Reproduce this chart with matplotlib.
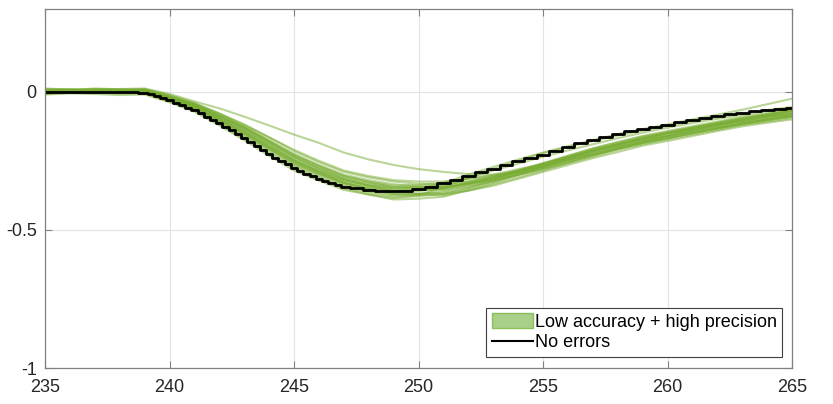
import matplotlib
matplotlib.use("Agg")
import matplotlib.pyplot as plt
from matplotlib.patches import Patch
from matplotlib.lines import Line2D

plt.rcParams['font.family'] = ['Liberation Sans', 'DejaVu Sans']
plt.rcParams['axes.unicode_minus'] = False

# black reference curve ("No errors"), finer sampling on the steep part
x_black = [235, 235.5, 236, 236.5, 237, 237.5, 238, 238.5,
           239, 239.25, 239.5, 239.75, 240, 240.25, 240.5, 240.75,
           241, 241.25, 241.5, 241.75, 242, 242.25, 242.5, 242.75,
           243, 243.25, 243.5, 243.75, 244, 244.25, 244.5, 244.75,
           245, 245.25, 245.5, 245.75, 246, 246.25, 246.5, 246.75,
           247, 247.5, 248, 248.5, 249, 249.5,
           250, 250.5, 251, 251.5, 252, 252.5, 253, 253.5, 254, 254.5,
           255, 255.5, 256, 256.5, 257, 257.5, 258, 258.5, 259, 259.5,
           260, 260.5, 261, 261.5, 262, 262.5, 263, 263.5, 264, 264.5, 265]
y_black = [0, 0, 0, 0, 0, 0, 0, 0,
           -0.004, -0.009, -0.015, -0.022, -0.03, -0.039, -0.048, -0.057,
           -0.067, -0.078, -0.09, -0.101, -0.113, -0.127, -0.14, -0.154,
           -0.168, -0.183, -0.197, -0.211, -0.225, -0.238, -0.25, -0.263,
           -0.275, -0.286, -0.296, -0.306, -0.315, -0.323, -0.33, -0.337,
           -0.343, -0.35, -0.355, -0.358, -0.358, -0.358,
           -0.352, -0.343, -0.332, -0.318, -0.305, -0.292, -0.278, -0.265, -0.252, -0.24,
           -0.228, -0.214, -0.2, -0.187, -0.175, -0.163, -0.152, -0.143, -0.135, -0.127,
           -0.12, -0.111, -0.103, -0.095, -0.088, -0.082, -0.077, -0.071, -0.066, -0.062, -0.06]

# green traces ("Low accuracy + high precision"), one value per x unit
x_green = list(range(235, 266))
g01 = [0.005, 0.002, 0.008, 0.01, 0.012, -0.008, -0.035, -0.06, -0.09, -0.122, -0.155, -0.185, -0.22, -0.245, -0.265, -0.28, -0.29, -0.298, -0.30, -0.29, -0.27, -0.24, -0.215, -0.19, -0.17, -0.15, -0.135, -0.118, -0.105, -0.09, -0.08]
g02 = [0.0, 0.004, 0.005, 0.002, 0.008, -0.015, -0.045, -0.08, -0.12, -0.165, -0.215, -0.255, -0.29, -0.31, -0.325, -0.333, -0.335, -0.325, -0.31, -0.292, -0.27, -0.248, -0.225, -0.2, -0.18, -0.16, -0.145, -0.13, -0.115, -0.1, -0.09]
g03 = [-0.005, -0.002, 0.0, 0.003, 0.004, -0.02, -0.05, -0.09, -0.135, -0.185, -0.235, -0.275, -0.31, -0.33, -0.345, -0.345, -0.34, -0.325, -0.305, -0.285, -0.26, -0.235, -0.21, -0.19, -0.17, -0.15, -0.135, -0.12, -0.105, -0.09, -0.08]
g04 = [0.01, 0.006, 0.012, 0.009, 0.01, -0.012, -0.04, -0.08, -0.125, -0.175, -0.225, -0.265, -0.30, -0.32, -0.335, -0.342, -0.345, -0.335, -0.32, -0.3, -0.28, -0.258, -0.235, -0.21, -0.19, -0.172, -0.155, -0.138, -0.12, -0.108, -0.095]
g05 = [-0.008, -0.004, -0.005, -0.001, -0.002, -0.028, -0.058, -0.1, -0.15, -0.205, -0.255, -0.295, -0.33, -0.352, -0.37, -0.37, -0.365, -0.348, -0.325, -0.3, -0.275, -0.248, -0.22, -0.198, -0.175, -0.158, -0.14, -0.122, -0.105, -0.09, -0.075]
g06 = [0.003, 0.006, 0.0, -0.003, -0.005, -0.032, -0.065, -0.113, -0.165, -0.22, -0.27, -0.31, -0.345, -0.365, -0.38, -0.378, -0.37, -0.348, -0.32, -0.292, -0.265, -0.238, -0.21, -0.188, -0.165, -0.148, -0.13, -0.112, -0.095, -0.08, -0.065]
g07 = [-0.01, -0.006, -0.008, -0.012, -0.01, -0.038, -0.072, -0.122, -0.175, -0.232, -0.285, -0.322, -0.355, -0.372, -0.385, -0.375, -0.345, -0.312, -0.28, -0.25, -0.222, -0.2, -0.178, -0.158, -0.14, -0.123, -0.106, -0.092, -0.078, -0.066, -0.055]
g08 = [0.006, 0.008, 0.004, 0.001, 0.0, -0.025, -0.052, -0.095, -0.14, -0.193, -0.245, -0.285, -0.32, -0.34, -0.355, -0.357, -0.355, -0.342, -0.325, -0.302, -0.28, -0.255, -0.23, -0.207, -0.185, -0.168, -0.15, -0.132, -0.115, -0.1, -0.085]
g09 = [0.0, -0.003, 0.003, 0.005, 0.006, -0.02, -0.048, -0.088, -0.13, -0.18, -0.23, -0.27, -0.305, -0.325, -0.34, -0.337, -0.33, -0.315, -0.30, -0.28, -0.262, -0.238, -0.215, -0.195, -0.175, -0.158, -0.14, -0.125, -0.11, -0.098, -0.085]
g10 = [-0.004, 0.0, -0.002, 0.001, 0.002, -0.025, -0.055, -0.1, -0.145, -0.198, -0.25, -0.288, -0.32, -0.338, -0.35, -0.347, -0.335, -0.31, -0.285, -0.26, -0.235, -0.212, -0.19, -0.168, -0.148, -0.13, -0.113, -0.098, -0.083, -0.07, -0.058]
g11 = [0.008, 0.01, 0.006, 0.005, 0.003, -0.028, -0.06, -0.108, -0.155, -0.208, -0.26, -0.298, -0.33, -0.348, -0.36, -0.355, -0.33, -0.30, -0.272, -0.245, -0.22, -0.197, -0.175, -0.153, -0.135, -0.118, -0.1, -0.083, -0.065, -0.045, -0.025]
g12 = [0.012, 0.008, 0.01, 0.007, 0.006, -0.018, -0.045, -0.085, -0.13, -0.182, -0.235, -0.278, -0.315, -0.34, -0.36, -0.368, -0.37, -0.358, -0.34, -0.315, -0.29, -0.265, -0.24, -0.218, -0.195, -0.178, -0.16, -0.142, -0.125, -0.112, -0.1]
g13 = [-0.006, -0.002, -0.003, -0.006, -0.004, -0.033, -0.062, -0.11, -0.16, -0.212, -0.265, -0.305, -0.34, -0.36, -0.375, -0.37, -0.36, -0.338, -0.315, -0.288, -0.26, -0.232, -0.205, -0.182, -0.16, -0.142, -0.125, -0.108, -0.09, -0.078, -0.065]
g14 = [0.002, 0.005, 0.007, 0.006, 0.004, -0.022, -0.05, -0.092, -0.135, -0.188, -0.24, -0.28, -0.315, -0.335, -0.35, -0.352, -0.35, -0.332, -0.315, -0.292, -0.27, -0.245, -0.22, -0.2, -0.18, -0.162, -0.145, -0.128, -0.11, -0.095, -0.08]
g15 = [0.004, 0.0, 0.001, 0.0, -0.002, -0.03, -0.057, -0.102, -0.148, -0.2, -0.25, -0.29, -0.325, -0.345, -0.36, -0.355, -0.35, -0.33, -0.31, -0.285, -0.262, -0.238, -0.212, -0.19, -0.168, -0.15, -0.132, -0.115, -0.098, -0.085, -0.07]
g16 = [-0.002, 0.002, 0.004, 0.006, 0.008, -0.015, -0.042, -0.078, -0.118, -0.165, -0.21, -0.25, -0.285, -0.305, -0.32, -0.325, -0.325, -0.315, -0.305, -0.287, -0.268, -0.245, -0.225, -0.205, -0.185, -0.168, -0.15, -0.133, -0.118, -0.104, -0.09]
g17 = [0.007, 0.004, 0.009, 0.008, 0.005, -0.025, -0.053, -0.098, -0.142, -0.195, -0.248, -0.29, -0.33, -0.352, -0.37, -0.373, -0.375, -0.358, -0.335, -0.31, -0.285, -0.258, -0.23, -0.205, -0.18, -0.16, -0.14, -0.12, -0.1, -0.085, -0.07]
g18 = [-0.003, 0.0, 0.002, 0.003, 0.001, -0.03, -0.06, -0.106, -0.152, -0.205, -0.258, -0.298, -0.335, -0.352, -0.365, -0.358, -0.35, -0.33, -0.31, -0.285, -0.258, -0.232, -0.205, -0.183, -0.162, -0.145, -0.128, -0.112, -0.096, -0.082, -0.068]
g19 = [0.005, 0.003, 0.002, 0.005, 0.007, -0.02, -0.046, -0.088, -0.128, -0.178, -0.228, -0.268, -0.305, -0.327, -0.345, -0.345, -0.345, -0.332, -0.318, -0.297, -0.275, -0.252, -0.228, -0.207, -0.186, -0.168, -0.15, -0.133, -0.116, -0.102, -0.088]
g20 = [0.0, -0.003, -0.004, -0.005, -0.006, -0.036, -0.068, -0.118, -0.17, -0.225, -0.278, -0.315, -0.35, -0.372, -0.39, -0.387, -0.38, -0.355, -0.33, -0.3, -0.272, -0.243, -0.215, -0.192, -0.17, -0.15, -0.132, -0.116, -0.1, -0.086, -0.072]
green_series = [g01, g02, g03, g04, g05, g06, g07, g08, g09, g10,
                g11, g12, g13, g14, g15, g16, g17, g18, g19, g20]

x_ticks = [235, 240, 245, 250, 255, 260, 265]
x_ticklabels = ["235", "240", "245", "250", "255", "260", "265"]
y_ticks = [-1, -0.5, 0]
y_ticklabels = ["-1", "-0.5", "0"]
legend_labels = ["Low accuracy + high precision", "No errors"]

fig = plt.figure(figsize=(8.33, 4.04), dpi=100)
ax = fig.add_axes([0.054, 0.089, 0.897, 0.889])

green = '#77AC30'
for g in green_series:
    ax.plot(x_green, g, color=green, alpha=0.5, lw=1.5)
ax.plot(x_black, y_black, color='black', lw=2.0, drawstyle='steps-mid')

ax.set_xlim(235, 265)
ax.set_ylim(-1, 0.3)
ax.set_xticks(x_ticks)
ax.set_xticklabels(x_ticklabels)
ax.set_yticks(y_ticks)
ax.set_yticklabels(y_ticklabels)
ax.grid(True, color='#e3e3e3', lw=0.8)
ax.set_axisbelow(True)
for s in ax.spines.values():
    s.set_color('#808080')
    s.set_linewidth(0.9)
ax.tick_params(direction='in', length=5, width=0.8, color='#808080',
               top=True, right=True, labelsize=13, labelcolor='#262626')
ax.tick_params(axis='x', pad=8)
ax.tick_params(axis='y', pad=6)

handles = [Patch(facecolor='#a9d08a', edgecolor='#8cbf5a', lw=1.0),
           Line2D([0], [0], color='black', lw=1.5)]
leg = ax.legend(handles, legend_labels, loc='lower right',
                bbox_to_anchor=(0.987, 0.031), borderaxespad=0, fontsize=13,
                fancybox=False, framealpha=1, edgecolor='#404040',
                handlelength=2.3, handleheight=0.9, handletextpad=0.1,
                borderpad=0.3, labelspacing=0.15)
leg.get_frame().set_linewidth(0.8)

fig.savefig('out.png', dpi=100)
